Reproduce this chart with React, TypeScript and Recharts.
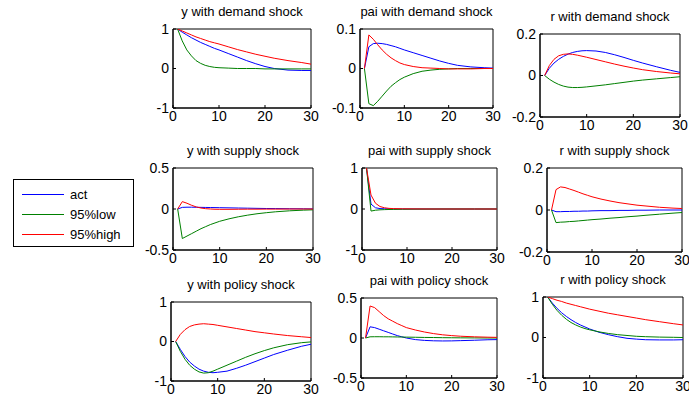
import { LineChart, Line, XAxis, YAxis, ReferenceArea } from 'recharts';

// periods (horizon 1..30)
const periods = [1, 2, 3, 4, 5, 6, 7, 8, 9, 10, 12, 14, 16, 18, 20, 22, 25, 28, 30];

// y with demand shock
const yDemAct = [1, 0.92, 0.85, 0.78, 0.72, 0.66, 0.61, 0.56, 0.51, 0.47, 0.38, 0.29, 0.2, 0.12, 0.05, 0, -0.04, -0.05, -0.05];
const yDemLow = [1, 0.7, 0.47, 0.32, 0.2, 0.13, 0.08, 0.05, 0.03, 0.02, 0.01, 0, 0, 0, -0.01, -0.01, -0.01, -0.01, -0.01];
const yDemHigh = [1, 0.95, 0.9, 0.85, 0.8, 0.76, 0.72, 0.68, 0.65, 0.62, 0.55, 0.48, 0.42, 0.36, 0.31, 0.26, 0.2, 0.15, 0.11];

// pai with demand shock
const piDemAct = [0, 0.055, 0.063, 0.064, 0.063, 0.061, 0.058, 0.055, 0.051, 0.047, 0.04, 0.033, 0.026, 0.019, 0.013, 0.008, 0.004, 0.002, 0.001];
const piDemLow = [0, -0.089, -0.094, -0.083, -0.07, -0.057, -0.045, -0.036, -0.028, -0.022, -0.013, -0.007, -0.004, -0.002, -0.001, 0, 0, 0, 0];
const piDemHigh = [0, 0.085, 0.074, 0.06, 0.047, 0.036, 0.027, 0.02, 0.014, 0.01, 0.005, 0.002, 0.001, 0, -0.001, -0.001, -0.001, 0, 0];

// r with demand shock
const rDemAct = [0, 0.035, 0.06, 0.078, 0.092, 0.103, 0.111, 0.116, 0.119, 0.12, 0.118, 0.111, 0.1, 0.087, 0.073, 0.06, 0.042, 0.025, 0.015];
const rDemLow = [0, -0.018, -0.032, -0.043, -0.051, -0.056, -0.058, -0.058, -0.057, -0.055, -0.05, -0.045, -0.039, -0.033, -0.027, -0.022, -0.016, -0.01, -0.006];
const rDemHigh = [0, 0.048, 0.078, 0.095, 0.102, 0.104, 0.102, 0.098, 0.093, 0.088, 0.077, 0.066, 0.055, 0.045, 0.036, 0.028, 0.019, 0.012, 0.008];

// y with supply shock
const ySupAct = [0, 0.02, 0.022, 0.022, 0.021, 0.02, 0.019, 0.018, 0.017, 0.016, 0.014, 0.012, 0.01, 0.008, 0.006, 0.005, 0.003, 0.002, 0.001];
const ySupLow = [0, -0.36, -0.33, -0.3, -0.27, -0.24, -0.215, -0.19, -0.17, -0.15, -0.12, -0.095, -0.075, -0.058, -0.045, -0.034, -0.022, -0.014, -0.01];
const ySupHigh = [0, 0.09, 0.07, 0.045, 0.025, 0.012, 0.004, 0, -0.003, -0.004, -0.004, -0.003, -0.002, -0.002, -0.001, -0.001, 0, 0, 0];

// pai with supply shock
const piSupAct = [1, 0.12, 0.03, 0.01, 0.005, 0.002, 0, 0, 0, 0, 0, 0, 0, 0, 0, 0, 0, 0, 0];
const piSupLow = [1, -0.05, -0.03, -0.02, -0.015, -0.012, -0.01, -0.008, -0.006, -0.005, -0.003, -0.002, -0.001, 0, 0, 0, 0, 0, 0];
const piSupHigh = [1, 0.34, 0.14, 0.06, 0.03, 0.015, 0.01, 0.007, 0.005, 0.004, 0.002, 0.001, 0, 0, 0, 0, 0, 0, 0];

// r with supply shock
const rSupAct = [0, -0.008, -0.008, -0.007, -0.007, -0.006, -0.006, -0.005, -0.005, -0.004, -0.003, -0.003, -0.002, -0.002, -0.001, -0.001, 0, 0, 0];
const rSupLow = [0, -0.06, -0.058, -0.057, -0.055, -0.054, -0.052, -0.05, -0.048, -0.046, -0.043, -0.039, -0.036, -0.032, -0.029, -0.025, -0.02, -0.015, -0.012];
const rSupHigh = [0, 0.097, 0.11, 0.107, 0.1, 0.093, 0.085, 0.077, 0.07, 0.063, 0.052, 0.043, 0.035, 0.029, 0.023, 0.019, 0.013, 0.009, 0.007];

// y with policy shock
const yPolAct = [0, -0.2, -0.38, -0.52, -0.62, -0.7, -0.75, -0.78, -0.79, -0.78, -0.75, -0.68, -0.6, -0.51, -0.42, -0.33, -0.22, -0.12, -0.07];
const yPolLow = [0, -0.25, -0.45, -0.6, -0.7, -0.77, -0.8, -0.79, -0.75, -0.7, -0.6, -0.5, -0.4, -0.31, -0.23, -0.16, -0.08, -0.03, -0.01];
const yPolHigh = [0, 0.18, 0.3, 0.38, 0.42, 0.44, 0.45, 0.44, 0.43, 0.41, 0.37, 0.33, 0.29, 0.25, 0.22, 0.19, 0.15, 0.12, 0.1];

// pai with policy shock
const piPolAct = [0, 0.14, 0.13, 0.11, 0.09, 0.07, 0.05, 0.03, 0.015, 0, -0.02, -0.03, -0.035, -0.037, -0.036, -0.033, -0.028, -0.022, -0.02];
const piPolLow = [0, 0.015, 0.016, 0.016, 0.015, 0.015, 0.014, 0.013, 0.012, 0.011, 0.009, 0.007, 0.006, 0.004, 0.003, 0.002, 0.001, 0, 0];
const piPolHigh = [0, 0.4, 0.38, 0.33, 0.28, 0.24, 0.21, 0.18, 0.155, 0.13, 0.1, 0.075, 0.055, 0.04, 0.03, 0.022, 0.015, 0.01, 0.008];

// r with policy shock
const rPolAct = [1, 0.85, 0.72, 0.61, 0.52, 0.44, 0.37, 0.31, 0.26, 0.21, 0.13, 0.07, 0.02, -0.02, -0.04, -0.055, -0.06, -0.06, -0.055];
const rPolLow = [1, 0.82, 0.67, 0.55, 0.45, 0.37, 0.31, 0.26, 0.22, 0.19, 0.14, 0.1, 0.07, 0.05, 0.03, 0.02, 0.01, 0.005, 0];
const rPolHigh = [1, 0.96, 0.92, 0.89, 0.85, 0.82, 0.79, 0.76, 0.73, 0.7, 0.65, 0.6, 0.56, 0.52, 0.48, 0.44, 0.39, 0.34, 0.31];

const FONT = '"Liberation Sans", Arial, sans-serif';
const BLUE = '#0000ff';
const GREEN = '#008000';
const RED = '#ff0000';

const YAXIS_W = 45;
const TOP_PAD = 12;

interface PanelProps {
  title: string;
  act: number[];
  low: number[];
  high: number[];
  lim: number;
  box: [number, number, number, number]; // left, top, right, bottom
}

function Panel({ title, act, low, high, lim, box }: PanelProps) {
  const [l, t, r, b] = box;
  const w = r - l;
  const h = b - t;
  const rows = periods.map((p, i) => ({ x: p, act: act[i], low: low[i], high: high[i] }));
  const tickStyle = { fontSize: 14, fill: '#000', fontFamily: FONT };
  return (
    <>
      <div
        style={{
          position: 'absolute',
          left: l - 10,
          top: t - 25,
          width: w + 20,
          textAlign: 'center',
          fontSize: 13,
          fontFamily: FONT,
          color: '#000',
          lineHeight: '16px',
          whiteSpace: 'nowrap',
        }}
      >
        {title}
      </div>
      <div style={{ position: 'absolute', left: l - YAXIS_W, top: t - TOP_PAD }}>
        <LineChart
          width={w + YAXIS_W + 14}
          height={h + TOP_PAD + 25}
          data={rows}
          margin={{ top: TOP_PAD, right: 14, bottom: 0, left: 0 }}
        >
          <XAxis
            dataKey="x"
            type="number"
            domain={[0, 30]}
            ticks={[0, 10, 20, 30]}
            allowDataOverflow
            height={25}
            axisLine={{ stroke: '#000' }}
            tickLine={{ stroke: '#000' }}
            tickSize={-3}
            tickMargin={6}
            tick={tickStyle}
            interval={0}
          />
          <YAxis
            type="number"
            domain={[-lim, lim]}
            ticks={[-lim, 0, lim]}
            allowDataOverflow
            width={YAXIS_W}
            axisLine={{ stroke: '#000' }}
            tickLine={{ stroke: '#000' }}
            tickSize={-3}
            tickMargin={7}
            tick={tickStyle}
            interval={0}
          />
          <ReferenceArea x1={0} x2={30} y1={-lim} y2={lim} fill="none" stroke="#000" strokeWidth={1} ifOverflow="visible" />
          <Line type="linear" dataKey="act" stroke={BLUE} strokeWidth={1} dot={false} isAnimationActive={false} />
          <Line type="linear" dataKey="low" stroke={GREEN} strokeWidth={1} dot={false} isAnimationActive={false} />
          <Line type="linear" dataKey="high" stroke={RED} strokeWidth={1} dot={false} isAnimationActive={false} />
        </LineChart>
      </div>
    </>
  );
}

const legendItems = [
  { label: 'act', color: BLUE },
  { label: '95%low', color: GREEN },
  { label: '95%high', color: RED },
];

export default function App() {
  return (
    <div style={{ position: 'absolute', left: 0, top: 0, width: 689, height: 406, background: '#fff', overflow: 'hidden' }}>
      <Panel title="y with demand shock" act={yDemAct} low={yDemLow} high={yDemHigh} lim={1} box={[173, 29, 311, 108]} />
      <Panel title="pai with demand shock" act={piDemAct} low={piDemLow} high={piDemHigh} lim={0.1} box={[360, 29, 493, 108]} />
      <Panel title="r with demand shock" act={rDemAct} low={rDemLow} high={rDemHigh} lim={0.2} box={[540, 34, 680, 117]} />
      <Panel title="y with supply shock" act={ySupAct} low={ySupLow} high={ySupHigh} lim={0.5} box={[173, 168, 313, 250]} />
      <Panel title="pai with supply shock" act={piSupAct} low={piSupLow} high={piSupHigh} lim={1} box={[362, 168, 497, 250]} />
      <Panel title="r with supply shock" act={rSupAct} low={rSupLow} high={rSupHigh} lim={0.2} box={[547, 168, 682, 252]} />
      <Panel title="y with policy shock" act={yPolAct} low={yPolLow} high={yPolHigh} lim={1} box={[171, 302, 311, 381]} />
      <Panel title="pai with policy shock" act={piPolAct} low={piPolLow} high={piPolHigh} lim={0.5} box={[361, 298, 497, 378]} />
      <Panel title="r with policy shock" act={rPolAct} low={rPolLow} high={rPolHigh} lim={1} box={[543, 297, 683, 378]} />
      <div
        style={{
          position: 'absolute',
          left: 13,
          top: 179,
          width: 119,
          height: 66,
          border: '1px solid #000',
          background: '#fff',
          fontFamily: FONT,
          fontSize: 13,
        }}
      >
        {legendItems.map((it, i) => (
          <div key={it.label} style={{ position: 'absolute', left: 8, top: 5 + i * 20, height: 18, display: 'flex', alignItems: 'center' }}>
            <div style={{ width: 42, height: 1, background: it.color }} />
            <span style={{ marginLeft: 6, color: '#000' }}>{it.label}</span>
          </div>
        ))}
      </div>
    </div>
  );
}
